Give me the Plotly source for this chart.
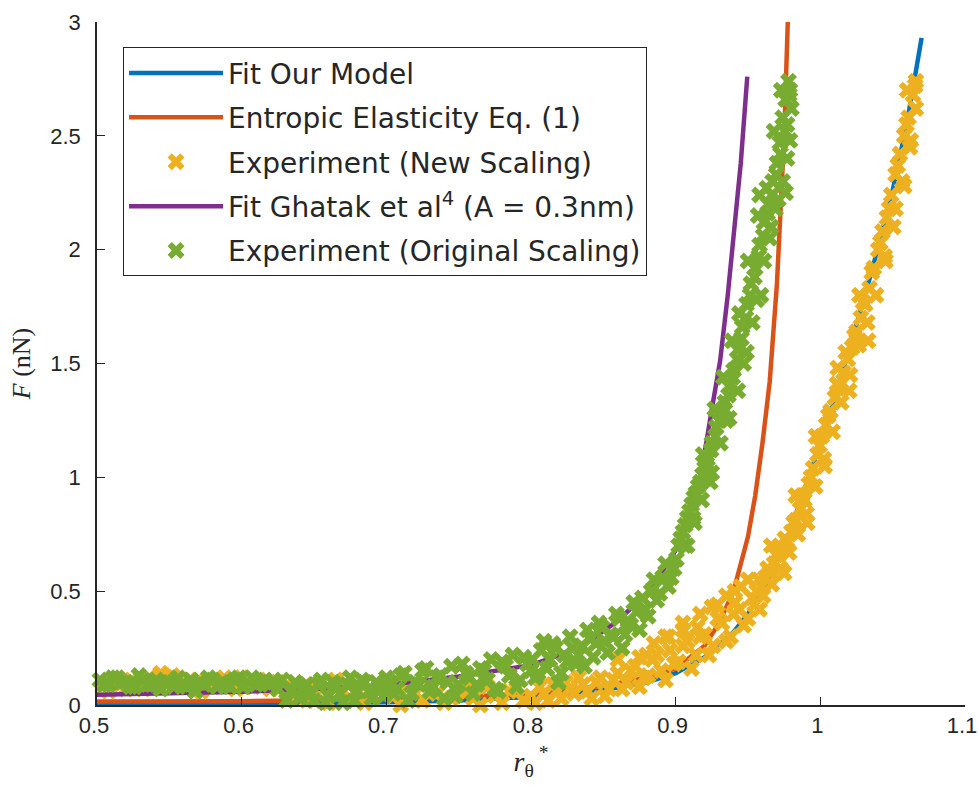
import plotly.graph_objects as go

# ---------------- data ----------------
fit_model_x = [0.5, 0.55, 0.6, 0.65, 0.7, 0.75, 0.8, 0.85, 0.88, 0.9, 0.92, 0.94, 0.95, 0.96, 0.97,
               0.98, 0.99, 1.0, 1.01, 1.02, 1.03, 1.04, 1.05, 1.06, 1.07]
fit_model_y = [0.0, 0.002, 0.004, 0.007, 0.012, 0.02, 0.035, 0.065, 0.1, 0.14, 0.21, 0.32, 0.4, 0.5, 0.63,
               0.78, 0.96, 1.15, 1.35, 1.56, 1.78, 2.01, 2.26, 2.56, 2.93]

entropic_x = [0.5, 0.6, 0.7, 0.75, 0.8, 0.85, 0.88, 0.9, 0.92, 0.93, 0.94, 0.95, 0.955, 0.96, 0.965,
              0.97, 0.975, 0.9775]
entropic_y = [0.015, 0.017, 0.025, 0.035, 0.05, 0.085, 0.12, 0.16, 0.26, 0.36, 0.50, 0.74, 0.92, 1.15, 1.42,
              1.85, 2.50, 3.0]

ghatak_x = [0.5, 0.55, 0.6, 0.65, 0.7, 0.75, 0.8, 0.82, 0.84, 0.86, 0.88, 0.89, 0.9, 0.91, 0.918,
            0.925, 0.9307, 0.936, 0.94, 0.945, 0.9495]
ghatak_y = [0.045, 0.05, 0.058, 0.07, 0.088, 0.125, 0.175, 0.22, 0.28, 0.37, 0.49, 0.58, 0.68, 0.83, 1.03,
            1.30, 1.51, 1.80, 2.05, 2.38, 2.76]

new_scaling_x = [
    0.504, 0.512, 0.52, 0.528, 0.536, 0.544, 0.552, 0.56, 0.568, 0.576, 0.584, 0.592, 0.60, 0.608, 0.616,
    0.508, 0.516, 0.524, 0.532, 0.54, 0.548, 0.556, 0.564, 0.572, 0.58, 0.588, 0.596, 0.604, 0.612, 0.62,
    0.625, 0.635, 0.645, 0.655, 0.665, 0.675, 0.685, 0.695, 0.705, 0.715, 0.725, 0.735, 0.745, 0.755,
    0.765, 0.775, 0.785, 0.795,
    0.63, 0.64, 0.65, 0.66, 0.67, 0.68, 0.69, 0.70, 0.71, 0.72, 0.73, 0.74, 0.75, 0.76, 0.77, 0.78, 0.79,
    0.80, 0.806, 0.812, 0.818, 0.824, 0.83, 0.836, 0.842, 0.848, 0.854, 0.86, 0.866, 0.872, 0.878,
    0.884, 0.89, 0.896, 0.902, 0.908, 0.914, 0.92, 0.926, 0.932, 0.938, 0.944, 0.95,
    0.803, 0.809, 0.815, 0.821, 0.827, 0.833, 0.839, 0.845, 0.851, 0.857, 0.863, 0.869, 0.875, 0.881,
    0.887, 0.893, 0.899, 0.905, 0.911, 0.917, 0.923, 0.929, 0.935, 0.941, 0.947,
    0.86, 0.875, 0.885, 0.895, 0.905, 0.915, 0.925, 0.935, 0.945, 0.94,
    0.953, 0.956, 0.959, 0.962, 0.965, 0.968, 0.971, 0.974, 0.977, 0.98, 0.983, 0.986, 0.989, 0.992,
    0.995, 0.998, 1.001, 1.004, 1.007, 1.01, 1.013, 1.016, 1.019, 1.022, 1.025, 1.028, 1.031, 1.034,
    1.037, 1.04, 1.043, 1.046, 1.049, 1.052, 1.055, 1.058, 1.061, 1.064, 1.066,
    0.9545, 0.9575, 0.9605, 0.9635, 0.9665, 0.9695, 0.9725, 0.9755, 0.9785, 0.9815, 0.9845, 0.9875,
    0.9905, 0.9935, 0.9965, 0.9995, 1.0025, 1.0055, 1.0085, 1.0115, 1.0145, 1.0175, 1.0205, 1.0235,
    1.0265, 1.0295, 1.0325, 1.0355, 1.0385, 1.0415, 1.0445, 1.0475, 1.0505, 1.0535, 1.0565, 1.0595,
    1.0625, 1.0655,
    0.95, 0.958, 0.966, 0.975, 0.983, 0.991, 0.997, 1.003, 1.012, 1.02, 1.027, 1.033, 1.045, 1.052,
    1.058, 1.062, 1.06, 1.066, 0.905, 0.917, 0.929, 0.941, 0.893, 0.88]
new_scaling_y = [
    0.08, 0.10, 0.07, 0.09, 0.12, 0.14, 0.13, 0.10, 0.08, 0.11, 0.09, 0.10, 0.12, 0.08, 0.10,
    0.06, 0.09, 0.11, 0.07, 0.10, 0.12, 0.09, 0.11, 0.06, 0.08, 0.12, 0.07, 0.09, 0.11, 0.07,
    0.10, 0.05, 0.02, 0.07, 0.11, 0.03, 0.01, 0.06, 0.04, 0.08, 0.02, 0.05, 0.03, 0.07,
    0.00, 0.04, 0.06, 0.02,
    0.08, 0.04, 0.09, 0.01, 0.06, 0.09, 0.03, 0.08, 0.00, 0.05, 0.09, 0.01, 0.06, 0.03, 0.08, 0.01, 0.07,
    0.04, 0.08, 0.02, 0.06, 0.10, 0.05, 0.09, 0.03, 0.12, 0.07, 0.14, 0.10, 0.17, 0.12,
    0.20, 0.15, 0.24, 0.19, 0.28, 0.22, 0.31, 0.26, 0.36, 0.30, 0.42, 0.38,
    0.01, 0.05, 0.09, 0.03, 0.07, 0.12, 0.06, 0.10, 0.04, 0.11, 0.07, 0.15, 0.08, 0.13,
    0.22, 0.11, 0.18, 0.26, 0.16, 0.30, 0.22, 0.38, 0.28, 0.45, 0.35,
    0.20, 0.21, 0.27, 0.30, 0.36, 0.34, 0.43, 0.48, 0.52, 0.40,
    0.47, 0.50, 0.52, 0.56, 0.58, 0.62, 0.66, 0.68, 0.72, 0.76, 0.81, 0.86, 0.90, 0.97,
    1.04, 1.10, 1.18, 1.23, 1.29, 1.35, 1.40, 1.46, 1.52, 1.57, 1.64, 1.70, 1.76, 1.83,
    1.92, 2.00, 2.08, 2.14, 2.24, 2.33, 2.42, 2.50, 2.58, 2.68, 2.74,
    0.44, 0.55, 0.48, 0.60, 0.53, 0.66, 0.60, 0.73, 0.67, 0.80, 0.75, 0.92,
    0.84, 1.00, 0.96, 1.14, 1.08, 1.27, 1.20, 1.41, 1.33, 1.55, 1.45, 1.62,
    1.58, 1.77, 1.68, 1.90, 1.80, 2.03, 1.97, 2.18, 2.10, 2.37, 2.30, 2.55,
    2.48, 2.72,
    0.55, 0.42, 0.70, 0.58, 0.92, 0.80, 1.18, 1.05, 1.48, 1.38, 1.80, 1.60, 1.95, 2.18,
    2.28, 2.45, 2.70, 2.62, 0.33, 0.40, 0.44, 0.50, 0.30, 0.22]

orig_scaling_x = [
    0.502, 0.508, 0.514, 0.52, 0.526, 0.532, 0.538, 0.544, 0.55, 0.556, 0.562, 0.568, 0.574, 0.58,
    0.586, 0.592, 0.598, 0.604, 0.61, 0.616,
    0.505, 0.511, 0.517, 0.523, 0.529, 0.535, 0.541, 0.547, 0.553, 0.559, 0.565, 0.571, 0.577, 0.583,
    0.589, 0.595, 0.601, 0.607, 0.613, 0.619,
    0.622, 0.628, 0.634, 0.64, 0.645, 0.65, 0.655, 0.66, 0.665, 0.67, 0.675, 0.68, 0.685, 0.69, 0.695, 0.70,
    0.625, 0.631, 0.637, 0.643, 0.648, 0.653, 0.658, 0.663, 0.668, 0.673, 0.678, 0.683, 0.688, 0.693, 0.698,
    0.705, 0.71, 0.715, 0.72, 0.725, 0.73, 0.735, 0.74, 0.745, 0.75, 0.755, 0.76, 0.765, 0.77, 0.775,
    0.78, 0.785, 0.79, 0.795, 0.80,
    0.7025, 0.7075, 0.7125, 0.7175, 0.7225, 0.7275, 0.7325, 0.7375, 0.7425, 0.7475, 0.7525, 0.7575,
    0.7625, 0.7675, 0.7725, 0.7775, 0.7825, 0.7875, 0.7925, 0.7975,
    0.803, 0.807, 0.811, 0.815, 0.819, 0.823, 0.827, 0.831, 0.835, 0.839, 0.843, 0.847, 0.851, 0.855,
    0.859, 0.863, 0.867, 0.871, 0.875, 0.879, 0.883, 0.887, 0.891, 0.895, 0.899,
    0.801, 0.805, 0.809, 0.813, 0.817, 0.821, 0.825, 0.829, 0.833, 0.837, 0.841, 0.845, 0.849, 0.853,
    0.857, 0.861, 0.865, 0.869, 0.873, 0.877, 0.881, 0.885, 0.889, 0.893, 0.897,
    0.902, 0.905, 0.908, 0.911, 0.914, 0.917, 0.92, 0.922, 0.925, 0.928, 0.931, 0.934, 0.937, 0.94,
    0.943, 0.946, 0.949, 0.952, 0.955, 0.958, 0.961, 0.964, 0.967, 0.97, 0.972, 0.974, 0.976, 0.978,
    0.9005, 0.9035, 0.9065, 0.9095, 0.9125, 0.9155, 0.9185, 0.9215, 0.9245, 0.9275, 0.9305, 0.9335,
    0.9365, 0.9395, 0.9425, 0.9455, 0.9485, 0.9515, 0.9545, 0.9575, 0.9605, 0.9635, 0.9665, 0.9695,
    0.9725, 0.9755, 0.9785,
    0.906, 0.913, 0.918, 0.925, 0.931, 0.937, 0.943, 0.949, 0.953, 0.956, 0.961, 0.965, 0.969, 0.974,
    0.977, 0.979, 0.98, 0.979,
    0.912, 0.919, 0.927, 0.933, 0.939, 0.944, 0.95, 0.957, 0.963, 0.968, 0.973, 0.977, 0.971, 0.966,
    0.959, 0.947, 0.935, 0.924, 0.908, 0.976, 0.958]
orig_scaling_y = [
    0.11, 0.09, 0.12, 0.10, 0.08, 0.11, 0.09, 0.07, 0.10, 0.12, 0.08, 0.06, 0.09, 0.11,
    0.10, 0.08, 0.12, 0.10, 0.09, 0.11,
    0.09, 0.12, 0.10, 0.08, 0.13, 0.09, 0.11, 0.10, 0.08, 0.09, 0.11, 0.10, 0.12, 0.08,
    0.09, 0.11, 0.08, 0.12, 0.10, 0.09,
    0.10, 0.11, 0.06, 0.03, 0.09, 0.02, 0.11, 0.04, 0.08, 0.01, 0.12, 0.06, 0.10, 0.03, 0.08, 0.12,
    0.07, 0.02, 0.10, 0.08, 0.05, 0.09, 0.01, 0.10, 0.05, 0.09, 0.02, 0.11, 0.06, 0.10, 0.04,
    0.05, 0.13, 0.02, 0.10, 0.15, 0.06, 0.12, 0.03, 0.17, 0.09, 0.14, 0.05, 0.16, 0.11, 0.07,
    0.19, 0.13, 0.08, 0.21, 0.15,
    0.10, 0.07, 0.14, 0.05, 0.09, 0.16, 0.08, 0.13, 0.10, 0.04, 0.18, 0.12,
    0.09, 0.15, 0.20, 0.06, 0.17, 0.22, 0.11, 0.18,
    0.12, 0.24, 0.16, 0.27, 0.10, 0.22, 0.30, 0.18, 0.26, 0.33, 0.21, 0.36, 0.28, 0.31,
    0.40, 0.25, 0.37, 0.45, 0.33, 0.42, 0.50, 0.46, 0.56, 0.52, 0.60,
    0.20, 0.14, 0.28, 0.20, 0.25, 0.14, 0.19, 0.25, 0.22, 0.17, 0.29, 0.27, 0.34, 0.23,
    0.30, 0.38, 0.31, 0.35, 0.41, 0.47, 0.39, 0.55, 0.49, 0.62, 0.56,
    0.70, 0.76, 0.82, 0.88, 0.93, 0.98, 1.04, 1.08, 1.15, 1.22, 1.28, 1.33, 1.40, 1.47,
    1.56, 1.66, 1.76, 1.85, 1.92, 2.02, 2.12, 2.20, 2.30, 2.38, 2.47, 2.58, 2.66, 2.74,
    0.64, 0.73, 0.79, 0.85, 0.91, 0.96, 1.01, 1.06, 1.12, 1.18, 1.25, 1.30,
    1.36, 1.44, 1.52, 1.61, 1.70, 1.80, 1.88, 1.97, 2.06, 2.16, 2.24, 2.33,
    2.42, 2.52, 2.68,
    0.70, 0.80, 0.90, 1.02, 1.15, 1.26, 1.38, 1.55, 1.68, 1.78, 1.95, 2.05, 2.18, 2.30,
    2.40, 2.48, 2.62, 2.70,
    0.82, 1.10, 1.30, 1.44, 1.60, 1.72, 1.95, 2.15, 2.27, 2.52, 2.70, 2.55, 2.22, 2.10,
    1.80, 1.50, 1.25, 0.98, 0.70, 2.25, 2.24]

x_ticks = [0.5, 0.6, 0.7, 0.8, 0.9, 1.0, 1.1]
x_tick_text = ["0.5", "0.6", "0.7", "0.8", "0.9", "1", "1.1"]
y_ticks = [0, 0.5, 1, 1.5, 2, 2.5, 3]
y_tick_text = ["0", "0.5", "1", "1.5", "2", "2.5", "3"]

# ---------------- styling ----------------
BLUE, ORANGE, YELLOW, PURPLE, GREEN = "#0072BD", "#D95319", "#EDB120", "#7E2F8E", "#77AC30"
AXC = "#262626"
SANS = "DejaVu Sans"
TICKFONT = "Liberation Sans"
SERIF = "Liberation Serif"
MSIZE = 15

fig = go.Figure()
fig.add_trace(go.Scatter(x=fit_model_x, y=fit_model_y, mode="lines", name="Fit Our Model",
                         line=dict(color=BLUE, width=4.5), legendgroup="a"))
fig.add_trace(go.Scatter(x=entropic_x, y=entropic_y, mode="lines", name="Entropic Elasticity Eq. (1)",
                         line=dict(color=ORANGE, width=4.5), legendgroup="b"))
fig.add_trace(go.Scatter(x=new_scaling_x, y=new_scaling_y, mode="markers", name="Experiment (New Scaling)",
                         marker=dict(symbol="x", size=MSIZE, color=YELLOW, line=dict(width=0)),
                         cliponaxis=False, legendgroup="c"))
fig.add_trace(go.Scatter(x=ghatak_x, y=ghatak_y, mode="lines", name="Fit Ghatak et al<sup>4</sup> (A = 0.3nm)",
                         line=dict(color=PURPLE, width=4.5), legendgroup="d"))
fig.add_trace(go.Scatter(x=orig_scaling_x, y=orig_scaling_y, mode="markers",
                         name="Experiment (Original Scaling)",
                         marker=dict(symbol="x", size=MSIZE, color=GREEN, line=dict(width=0)),
                         cliponaxis=False, legendgroup="e"))

fig.update_layout(
    width=979, height=792,
    margin=dict(l=97, r=14, t=22, b=87),
    paper_bgcolor="white", plot_bgcolor="white",
    font=dict(family=SANS, color=AXC),
    showlegend=True,
    legend=dict(x=0.03, y=0.963, xanchor="left", yanchor="top",
                bgcolor="white", bordercolor=AXC, borderwidth=1,
                font=dict(family=SANS, size=28, color=AXC),
                tracegroupgap=5, itemwidth=94, traceorder="grouped"),
    xaxis=dict(range=[0.5, 1.1], tickmode="array", tickvals=x_ticks, ticktext=x_tick_text,
               ticks="inside", ticklen=8, tickwidth=1.2, tickcolor=AXC,
               showline=True, linecolor=AXC, linewidth=1.5, showgrid=False, zeroline=False,
               ticklabeloverflow="allow", automargin=False, ticklabelshift=-3,
               tickfont=dict(family=TICKFONT, size=22, color=AXC),
               title=dict(text="<i>r</i><sub>θ</sub><sup> *</sup>",
                          font=dict(family=SERIF, size=28, color=AXC), standoff=14)),
    yaxis=dict(range=[0, 3], tickmode="array", tickvals=y_ticks, ticktext=y_tick_text,
               ticks="inside", ticklen=8, tickwidth=1.2, tickcolor=AXC,
               showline=True, linecolor=AXC, linewidth=1.5, showgrid=False, zeroline=False,
               automargin=False,
               tickfont=dict(family=TICKFONT, size=22, color=AXC), ticklabelstandoff=10,
               title=dict(text="<i>F</i> (nN)", font=dict(family=SERIF, size=26, color=AXC), standoff=12)),
)

fig.write_html("out.html")
